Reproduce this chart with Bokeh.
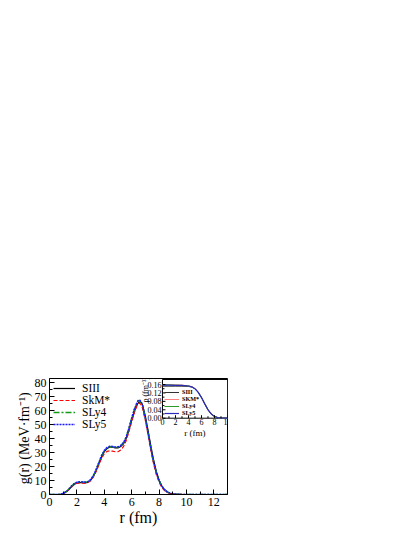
import math
from bokeh.plotting import figure
from bokeh.models import Range1d, Legend, LegendItem, FixedTicker
from bokeh.embed import file_html
from bokeh.resources import INLINE

# ---------------- main panel data ----------------
r = [0, 0.6, 0.8, 1.0, 1.2, 1.4, 1.6, 1.8, 2.0, 2.2, 2.4, 2.6, 2.8, 3.0, 3.2, 3.4,
     3.6, 3.8, 4.0, 4.2, 4.4, 4.6, 4.8, 5.0, 5.2, 5.4, 5.6, 5.8, 6.0, 6.2, 6.4, 6.5,
     6.6, 6.7, 6.8, 7.0, 7.2, 7.4, 7.6, 7.8, 8.0, 8.2, 8.4, 8.6, 8.8, 9.0, 9.3, 9.6,
     10.0, 11.0, 13.0]

g_SIII = [0, 0, 0.1, 0.6, 1.7, 3.3, 5.4, 7.2, 8.2, 8.5, 8.4, 8.3, 8.7, 10.0, 12.8, 16.8,
          21.8, 26.8, 30.6, 32.9, 33.8, 33.8, 33.3, 33.3, 34.3, 36.2, 40.0, 46.0, 52.8, 59.3, 64.3, 65.8,
          66.2, 65.6, 63.8, 56.0, 45.8, 34.8, 24.8, 16.5, 10.3, 6.1, 3.4, 1.8, 0.9, 0.45, 0.15, 0.05,
          0.01, 0, 0]
g_SkMs = [0, 0, 0.1, 0.6, 1.7, 3.3, 5.4, 7.2, 8.0, 8.3, 8.2, 8.1, 8.5, 9.8, 12.5, 16.3,
          21.0, 25.8, 29.2, 30.8, 31.2, 31.0, 30.6, 30.6, 31.8, 34.2, 38.5, 45.0, 52.0, 58.8, 63.8, 65.3,
          65.2, 64.0, 61.5, 53.0, 42.5, 31.5, 22.0, 14.3, 8.8, 5.1, 2.8, 1.5, 0.7, 0.35, 0.1, 0.03,
          0, 0, 0]
g_SLy4 = [0, 0, 0.2, 0.8, 2.0, 3.7, 5.9, 7.7, 8.7, 9.0, 8.9, 8.7, 9.1, 10.5, 13.3, 17.6,
          22.6, 27.5, 31.3, 33.4, 34.2, 34.1, 33.8, 34.0, 35.0, 37.0, 41.0, 47.5, 54.5, 61.0, 65.8, 67.2,
          67.0, 65.8, 63.4, 54.5, 44.2, 33.3, 23.8, 15.8, 10.0, 6.0, 3.5, 1.9, 1.0, 0.5, 0.18, 0.06,
          0.01, 0, 0]
g_SLy5 = [0, 0, 0.2, 0.8, 2.0, 3.8, 6.0, 7.8, 8.8, 9.1, 9.0, 8.8, 9.2, 10.6, 13.5, 17.8,
          22.8, 27.8, 31.5, 33.6, 34.5, 34.4, 34.0, 34.1, 35.0, 37.0, 41.0, 47.5, 54.5, 61.0, 66.0, 67.6,
          67.4, 66.2, 63.8, 54.5, 44.0, 33.0, 23.5, 15.5, 10.0, 6.0, 3.5, 1.9, 1.0, 0.5, 0.18, 0.06,
          0.01, 0, 0]

series_names = ["SIII", "SkM*", "SLy4", "SLy5"]
x_ticks = [0, 2, 4, 6, 8, 10, 12]
x_minor = [1, 3, 5, 7, 9, 11, 13]
y_ticks = [0, 10, 20, 30, 40, 50, 60, 70, 80]
y_minor = [5, 15, 25, 35, 45, 55, 65, 75]

# ---------------- inset data ----------------
r_in = [0, 1, 2, 3, 4, 4.5, 5, 5.5, 6, 6.5, 7, 7.5, 8, 8.5, 9, 10]
rho_SIII = [0.152, 0.152, 0.152, 0.152, 0.151, 0.148, 0.140, 0.124, 0.099, 0.069, 0.041, 0.021, 0.009, 0.003, 0.001, 0]
rho_SkMs = [0.160, 0.159, 0.158, 0.157, 0.154, 0.150, 0.141, 0.123, 0.097, 0.067, 0.039, 0.019, 0.008, 0.003, 0.001, 0]
rho_SLy4 = [0.158, 0.158, 0.157, 0.156, 0.153, 0.149, 0.140, 0.123, 0.098, 0.068, 0.040, 0.020, 0.008, 0.003, 0.001, 0]
rho_SLy5 = [0.157, 0.157, 0.156, 0.156, 0.153, 0.149, 0.140, 0.123, 0.098, 0.068, 0.040, 0.020, 0.008, 0.003, 0.001, 0]
inset_series_names = ["SIII", "SKM*", "SLy4", "SLy5"]
xi_ticks = [0, 2, 4, 6, 8, 10]
xi_minor = [1, 3, 5, 7, 9]
yi_ticks = [0.0, 0.04, 0.08, 0.12, 0.16]
yi_minor = [0.02, 0.06, 0.10, 0.14]
yi_labels = ["0.00", "0.04", "0.08", "0.12", "0.16"]

FONT = "Liberation Serif"

# ---------------- main figure ----------------
p = figure(width=400, height=528, output_backend="svg", toolbar_location=None,
           x_range=Range1d(0, 13), y_range=Range1d(0, 83),
           min_border_left=49, min_border_right=173, min_border_top=378, min_border_bottom=33)
p.background_fill_color = "white"
p.border_fill_color = "white"
p.outline_line_color = "black"
p.outline_line_width = 1
p.grid.visible = False

for ax in (p.xaxis[0], p.yaxis[0]):
    ax.major_tick_in = 5
    ax.major_tick_out = 0
    ax.minor_tick_in = 3
    ax.minor_tick_out = 0
    ax.major_label_text_font = FONT
    ax.major_label_text_font_size = "12px"
    ax.major_label_text_color = "black"
    ax.major_label_standoff = 3
    ax.axis_label_text_font = FONT
    ax.axis_label_text_font_style = "normal"
    ax.axis_label_text_color = "black"
    ax.axis_line_color = "black"
    ax.major_tick_line_color = "black"
    ax.minor_tick_line_color = "black"

p.xaxis[0].ticker = FixedTicker(ticks=x_ticks, minor_ticks=x_minor)
p.yaxis[0].ticker = FixedTicker(ticks=y_ticks, minor_ticks=y_minor)
p.xaxis[0].axis_label = "r (fm)"
p.xaxis[0].axis_label_text_font_size = "16px"
p.xaxis[0].axis_label_standoff = 0
p.yaxis[0].axis_label = "g(r)  (MeV·fm⁻¹)"
p.yaxis[0].axis_label_text_font_size = "14px"
p.yaxis[0].axis_label_standoff = 0

r1 = p.line(r, g_SIII, line_color="black", line_width=1.2)
r2 = p.line(r, g_SkMs, line_color="#ff0000", line_width=1.2, line_dash="4 2")
r3 = p.line(r, g_SLy4, line_color="#119911", line_width=1.5, line_dash="6 2 2 2")
r4 = p.line(r, g_SLy5, line_color="#1a1aff", line_width=1.5, line_dash="2 1")

leg = Legend(items=[LegendItem(label=n, renderers=[rr]) for n, rr in zip(series_names, [r1, r2, r3, r4])],
             location="top_left", margin=0, padding=4, spacing=0,
             glyph_width=22, glyph_height=12, label_height=12, label_standoff=7,
             label_text_font=FONT, label_text_font_size="11.5px", label_text_color="black",
             border_line_alpha=0, background_fill_alpha=0)
p.add_layout(leg)

# ---------------- inset (sub-coordinates inside the main frame) ----------------
XI_SRC = (0, 10)
YI_SRC = (0, 0.184)
sub = p.subplot(x_source=Range1d(*XI_SRC), y_source=Range1d(*YI_SRC),
                x_target=Range1d(8.25, 13.0), y_target=Range1d(54.6, 82.3))

px_x = (XI_SRC[1] - XI_SRC[0]) / 65.0
px_y = (YI_SRC[1] - YI_SRC[0]) / 39.0

sub.quad(left=[XI_SRC[0]], right=[XI_SRC[1]], bottom=[YI_SRC[0]], top=[YI_SRC[1]],
         fill_color="white", line_color="black", line_width=1)

s1 = sub.line(r_in, rho_SIII, line_color="#333333", line_width=1)
s2 = sub.line(r_in, rho_SkMs, line_color="#ff8080", line_width=1)
s3 = sub.line(r_in, rho_SLy4, line_color="#2a9a2a", line_width=1)
s4 = sub.line(r_in, rho_SLy5, line_color="#2b2bb8", line_width=1.2)

sub.segment(x0=xi_ticks, y0=[0] * len(xi_ticks), x1=xi_ticks, y1=[3 * px_y] * len(xi_ticks),
            line_color="black", line_width=1)
sub.segment(x0=xi_minor, y0=[0] * len(xi_minor), x1=xi_minor, y1=[2 * px_y] * len(xi_minor),
            line_color="black", line_width=1)
sub.segment(x0=[0] * len(yi_ticks), y0=yi_ticks, x1=[3 * px_x] * len(yi_ticks), y1=yi_ticks,
            line_color="black", line_width=1)
sub.segment(x0=[0] * len(yi_minor), y0=yi_minor, x1=[2 * px_x] * len(yi_minor), y1=yi_minor,
            line_color="black", line_width=1)

sub.text(x=xi_ticks, y=[0] * len(xi_ticks), text=[str(t) for t in xi_ticks], y_offset=1,
         text_align="center", text_baseline="top", text_font=FONT, text_font_size="8px",
         text_color="black")
sub.text(x=[0] * len(yi_ticks), y=yi_ticks, text=yi_labels, x_offset=-1,
         text_align="right", text_baseline="middle", text_font=FONT, text_font_size="8px",
         text_color="black")
sub.text(x=[5], y=[0], text=["r (fm)"], y_offset=10, text_align="center", text_baseline="top",
         text_font=FONT, text_font_size="9px", text_color="black")
sub.text(x=[0], y=[0.135], text=["ρ (fm⁻³)"], x_offset=-17, angle=math.pi / 2,
         text_align="center", text_baseline="middle", text_font=FONT, text_font_size="8px",
         text_color="black")

leg2 = Legend(items=[LegendItem(label=n, renderers=[rr]) for n, rr in zip(inset_series_names, [s1, s2, s3, s4])],
              location=(115, 78), margin=0, padding=0, spacing=0,
              glyph_width=15, glyph_height=6, label_height=6, label_standoff=3,
              label_text_font=FONT, label_text_font_size="6.2px", label_text_font_style="bold",
              label_text_color="black", border_line_alpha=0, background_fill_alpha=0)
p.add_layout(leg2)

open("out.html", "w").write(file_html(p, INLINE))
